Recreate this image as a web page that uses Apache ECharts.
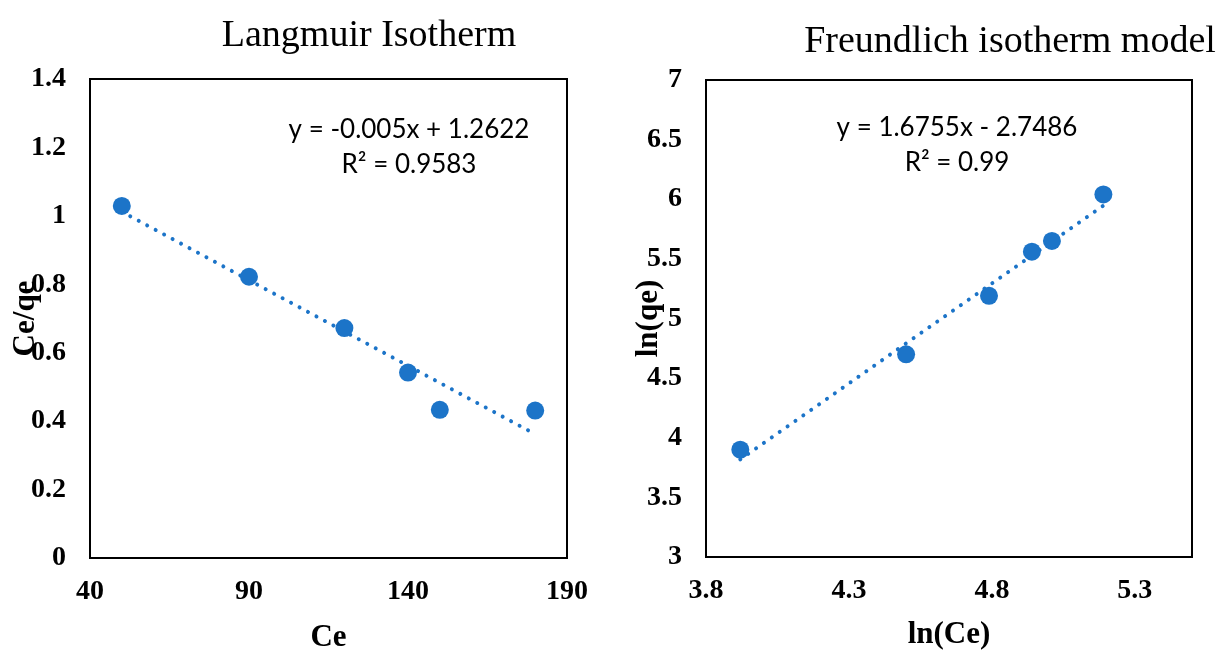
<!DOCTYPE html>
<html>
<head>
<meta charset="utf-8">
<script src="https://cdn.jsdelivr.net/npm/echarts@6/dist/echarts.min.js"></script>
<style>
html,body{margin:0;padding:0;background:#fff;}
#c{width:1217px;height:651px;}
</style>
</head>
<body>
<div id="c"></div>
<script>
// Langmuir data
const langCe = [50, 90, 120, 140, 150, 180];
const langCeQe = [1.029, 0.822, 0.672, 0.542, 0.433, 0.431];
const langTrendX = [50, 180];
const langTrendY = [1.012, 0.362];
const langXTicks = [40, 90, 140, 190];
const langYTicks = [0, 0.2, 0.4, 0.6, 0.8, 1, 1.2, 1.4];
// Freundlich data
const freLnCe = [3.92, 4.50, 4.79, 4.94, 5.01, 5.19];
const freLnQe = [3.90, 4.70, 5.19, 5.56, 5.65, 6.04];
const freTrendX = [3.92, 5.19];
const freTrendY = [3.819, 5.947];
const freXTicks = [3.8, 4.3, 4.8, 5.3];
const freYTicks = [3, 3.5, 4, 4.5, 5, 5.5, 6, 6.5, 7];

const BLUE = '#1C74C8';
const SERIF = '"Liberation Serif", "Times New Roman", serif';
const SANS = 'Lato, "Liberation Sans", sans-serif';

function pairs(xs, ys){ return xs.map((x,i)=>[x, ys[i]]); }

const labelStyle = {fontFamily: SERIF, fontWeight: 'bold', fontSize: 28, color: '#000'};
const nameStyle = {fontFamily: SERIF, fontWeight: 'bold', fontSize: 31, color: '#000'};

function valAxis(gridIndex, min, max, ticks, name, nameGap, margin){
  return {
    type: 'value', gridIndex, min, max, name, nameLocation: 'middle', nameGap,
    nameMoveOverlap: false,
    nameTextStyle: nameStyle,
    axisLine: {show: false}, axisTick: {show: false}, splitLine: {show: false},
    axisLabel: Object.assign({customValues: ticks, margin, showMaxLabel: true}, labelStyle)
  };
}

const chart = echarts.init(document.getElementById('c'), null, {renderer: 'canvas'});
chart.setOption({
  animation: false,
  backgroundColor: '#fff',
  title: [
    {text: 'Langmuir Isotherm', left: 364, top: 12, textAlign: 'center',
     textStyle: {fontFamily: SERIF, fontWeight: 'normal', fontSize: 38, color: '#000'}},
    {text: 'Freundlich isotherm model', left: 1005, top: 18, textAlign: 'center',
     textStyle: {fontFamily: SERIF, fontWeight: 'normal', fontSize: 38, color: '#000'}},
    {text: 'y = -0.005x + 1.2622\nR² = 0.9583', left: 404, top: 107, textAlign: 'center',
     textStyle: {fontFamily: SANS, fontWeight: 'normal', fontSize: 26, lineHeight: 35, color: '#000'}},
    {text: 'y = 1.6755x - 2.7486\nR² = 0.99', left: 952, top: 105, textAlign: 'center',
     textStyle: {fontFamily: SANS, fontWeight: 'normal', fontSize: 26, lineHeight: 35, color: '#000'}}
  ],
  grid: [
    {left: 90, top: 79, width: 477, height: 479, show: true, borderColor: '#000', borderWidth: 2,
     backgroundColor: 'transparent', outerBoundsMode: 'none', containLabel: false},
    {left: 706, top: 80, width: 486, height: 477, show: true, borderColor: '#000', borderWidth: 2,
     backgroundColor: 'transparent', outerBoundsMode: 'none', containLabel: false}
  ],
  xAxis: [
    valAxis(0, 40, 190, langXTicks, 'Ce', 64, 20),
    valAxis(1, 3.8, 5.5, freXTicks, 'ln(Ce)', 62, 20)
  ],
  yAxis: [
    valAxis(0, 0, 1.4, langYTicks, 'Ce/qe', 49, 24),
    valAxis(1, 3, 7, freYTicks, 'ln(qe)', 42, 24)
  ],
  series: [
    {type: 'line', xAxisIndex: 0, yAxisIndex: 0, data: pairs(langTrendX, langTrendY),
     showSymbol: false, silent: true, z: 2,
     lineStyle: {color: BLUE, width: 4, type: [0.01, 9.6], cap: 'round'}},
    {type: 'scatter', xAxisIndex: 0, yAxisIndex: 0, data: pairs(langCe, langCeQe),
     symbol: 'circle', symbolSize: 18, itemStyle: {color: BLUE, opacity: 1}, z: 3},
    {type: 'line', xAxisIndex: 1, yAxisIndex: 1, data: pairs(freTrendX, freTrendY),
     showSymbol: false, silent: true, z: 2,
     lineStyle: {color: BLUE, width: 4, type: [0.01, 9.6], cap: 'round'}},
    {type: 'scatter', xAxisIndex: 1, yAxisIndex: 1, data: pairs(freLnCe, freLnQe),
     symbol: 'circle', symbolSize: 18, itemStyle: {color: BLUE, opacity: 1}, z: 3}
  ]
});
</script>
</body>
</html>
